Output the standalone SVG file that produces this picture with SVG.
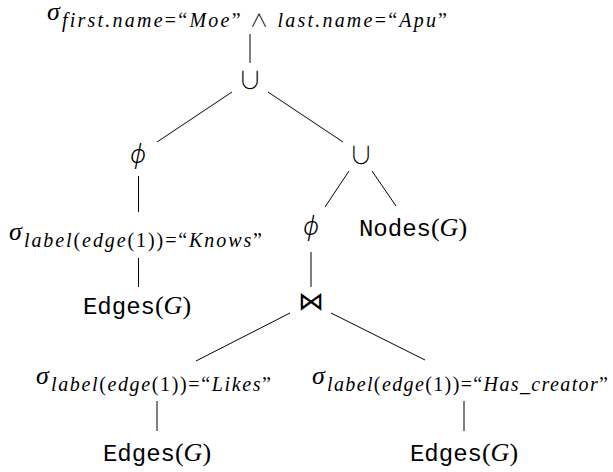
<svg xmlns="http://www.w3.org/2000/svg" width="613" height="472" viewBox="0 0 613 472">
<style>
.bg{fill:#fff}
.sig{font-family:"Liberation Serif",serif;font-style:italic;font-size:26px;fill:#000}
.sub{font-family:"Liberation Serif",serif;font-style:italic;font-size:20px;fill:#000}
.up{font-style:normal}
.op{font-family:"Noto Sans CJK JP","DejaVu Sans",sans-serif;font-weight:300;font-style:normal;font-size:18px}
.tt{font-family:"Liberation Mono",monospace;font-size:24px;fill:#000}
.rm{font-family:"Liberation Serif",serif;font-size:26px;fill:#000}
.it{font-style:italic}
.sym{font-family:"Noto Sans CJK JP","DejaVu Sans",sans-serif;font-weight:300;font-size:24px;fill:#000}
.bow{font-family:"DejaVu Sans",sans-serif;font-size:26px;fill:#000}
.phi{font-family:"Noto Sans","DejaVu Serif",serif;font-style:italic;font-weight:300;font-size:25px;fill:#000}
.conn line{stroke:#000;stroke-width:1}
</style>
<rect class="bg" width="613" height="472"/>
<g id="connectors" class="conn">
<line x1="250" y1="34" x2="250" y2="63"/>
<line x1="232" y1="92" x2="157" y2="142"/>
<line x1="268" y1="92" x2="343" y2="142"/>
<line x1="138.5" y1="176" x2="138.5" y2="212"/>
<line x1="138.5" y1="258" x2="138.5" y2="287"/>
<line x1="349" y1="171" x2="325" y2="207"/>
<line x1="372" y1="171" x2="396" y2="206"/>
<line x1="311" y1="252" x2="311" y2="287"/>
<line x1="290" y1="313" x2="196" y2="361"/>
<line x1="331" y1="313" x2="425" y2="360"/>
<line x1="157" y1="401" x2="157" y2="431"/>
<line x1="464" y1="401" x2="464" y2="431"/>
</g>
<g id="select-top">
<text class="sig" x="47" y="20">σ</text>
<text class="sub" x="62" y="27" textLength="385" lengthAdjust="spacing">first.name<tspan class="up">=“</tspan>Moe<tspan class="up">” </tspan><tspan class="op">∧</tspan><tspan class="up"> </tspan>last.name<tspan class="up">=“</tspan>Apu<tspan class="up">”</tspan></text>
</g>
<g id="union-top"><text class="sym" x="250" y="89" text-anchor="middle">∪</text></g>
<g id="project-left"><text class="phi" x="138" y="163" text-anchor="middle">ϕ</text></g>
<g id="select-knows">
<text class="sig" x="9" y="240">σ</text>
<text class="sub" x="24" y="247" textLength="238" lengthAdjust="spacing">label<tspan class="up">(</tspan>edge<tspan class="up">(1))=“</tspan>Knows<tspan class="up">”</tspan></text>
</g>
<g id="edges-left"><text x="137" y="314" text-anchor="middle"><tspan class="tt">Edges</tspan><tspan class="rm">(</tspan><tspan class="rm it">G</tspan><tspan class="rm">)</tspan></text></g>
<g id="union-right"><text class="sym" x="361" y="164" text-anchor="middle">∪</text></g>
<g id="project-right"><text class="phi" x="311" y="235" text-anchor="middle">ϕ</text></g>
<g id="nodes"><text x="413" y="236" text-anchor="middle"><tspan class="tt">Nodes</tspan><tspan class="rm">(</tspan><tspan class="rm it">G</tspan><tspan class="rm">)</tspan></text></g>
<g id="join"><text class="bow" x="311" y="310" text-anchor="middle">⋈</text></g>
<g id="select-likes">
<text class="sig" x="36" y="384">σ</text>
<text class="sub" x="51" y="391" textLength="220" lengthAdjust="spacing">label<tspan class="up">(</tspan>edge<tspan class="up">(1))=“</tspan>Likes<tspan class="up">”</tspan></text>
</g>
<g id="select-hascreator">
<text class="sig" x="312" y="384">σ</text>
<text class="sub" x="327" y="391" textLength="281" lengthAdjust="spacing">label<tspan class="up">(</tspan>edge<tspan class="up">(1))=“</tspan>Has_creator<tspan class="up">”</tspan></text>
</g>
<g id="edges-likes"><text x="157" y="461" text-anchor="middle"><tspan class="tt">Edges</tspan><tspan class="rm">(</tspan><tspan class="rm it">G</tspan><tspan class="rm">)</tspan></text></g>
<g id="edges-hascreator"><text x="464" y="461" text-anchor="middle"><tspan class="tt">Edges</tspan><tspan class="rm">(</tspan><tspan class="rm it">G</tspan><tspan class="rm">)</tspan></text></g>
</svg>
